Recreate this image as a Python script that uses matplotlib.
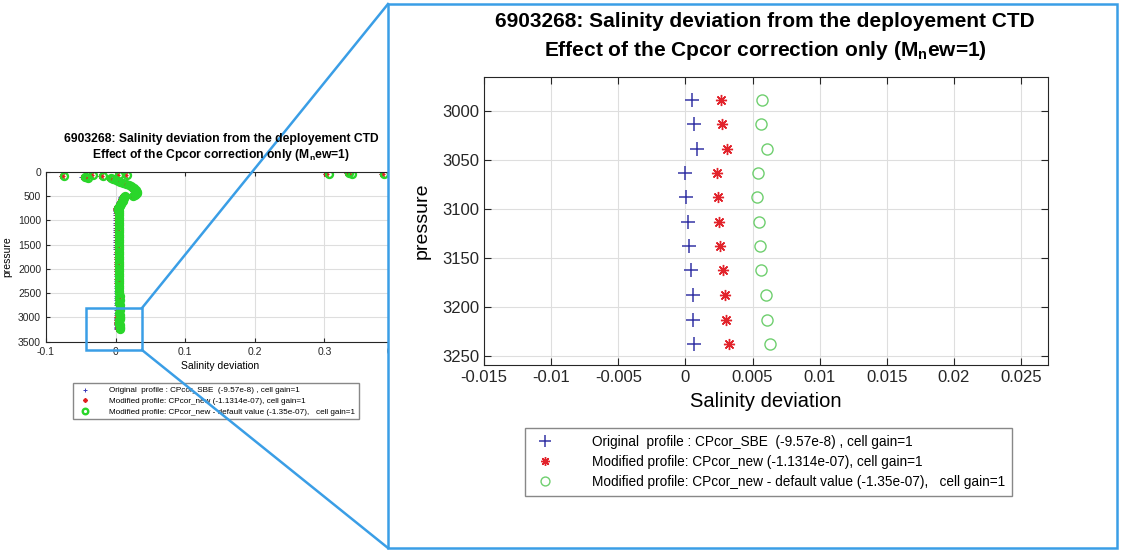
import matplotlib.pyplot as plt
from matplotlib.patches import Rectangle
from matplotlib.lines import Line2D

plt.rcParams['font.family'] = ['Liberation Sans', 'DejaVu Sans']
plt.rcParams['mathtext.fontset'] = 'custom'
plt.rcParams['mathtext.rm'] = 'Liberation Sans'
plt.rcParams['mathtext.bf'] = 'Liberation Sans:bold'

# pressure levels of the profile (dbar)
pres = [30, 40, 50, 55, 65, 70, 75, 82, 90, 100, 110, 120, 130, 150, 170, 190, 210, 230,
        250, 270, 290, 310, 330, 350, 370, 390, 410, 430, 450, 470, 490, 500, 520, 540,
        560, 580, 600, 620, 640, 660, 680, 700, 720, 740, 760, 780,
        800, 850, 900, 950, 1000, 1050, 1100, 1150, 1200, 1250, 1300, 1350, 1400, 1450,
        1500, 1550, 1600, 1650, 1700, 1750, 1800, 1850, 1900, 1950, 2000, 2050, 2100,
        2150, 2200, 2250, 2300, 2350, 2400, 2450, 2500, 2550, 2600, 2650, 2700, 2750,
        2800, 2850, 2900, 2950,
        2988, 3013, 3038, 3063, 3088, 3113, 3138, 3162, 3188, 3213, 3238]

# salinity deviation, original CPcor_SBE
sal_orig = [0.331, 0.334, 0.301, 0.381, 0.000, 0.012, -0.037, -0.079, -0.023, -0.047, -0.049,
            -0.044, -0.012, -0.009, -0.005, -0.001, 0.002, 0.006, 0.010, 0.014, 0.017, 0.019,
            0.021, 0.022, 0.024, 0.025, 0.026, 0.026, 0.025, 0.023, 0.020, 0.008, 0.007,
            0.007, 0.006, 0.006, 0.005, 0.004, 0.003, 0.003, 0.002, 0.001, 0.000, -0.001,
            -0.0015, -0.0012,
            -0.0008, -0.0010, -0.0009, -0.0010, -0.0008, -0.0007, -0.0008, -0.0006, -0.0007,
            -0.0005, -0.0006, -0.0004, -0.0005, -0.0003, -0.0004, -0.0002, -0.0003, -0.0001,
            -0.0002, 0.0000, -0.0001, 0.0001, 0.0000, 0.0002, 0.0001, 0.0002, 0.0001, 0.0003,
            0.0002, 0.0003, 0.0002, 0.0004, 0.0003, 0.0004, 0.0003, 0.0005, 0.0004, 0.0005,
            0.0004, 0.0006, 0.0005, 0.0006, 0.0004, 0.0005,
            0.0005, 0.00066, 0.00085, 0.0, 0.00006, 0.00019, 0.00025, 0.00038, 0.00053,
            0.00053, 0.00066]

# salinity deviation, CPcor_new (-1.1314e-07)
sal_mod = [0.333, 0.336, 0.303, 0.383, 0.002, 0.014, -0.035, -0.077, -0.021, -0.045, -0.047,
           -0.042, -0.010, -0.007, -0.003, 0.001, 0.004, 0.008, 0.012, 0.016, 0.019, 0.021,
           0.023, 0.024, 0.026, 0.027, 0.028, 0.028, 0.027, 0.025, 0.022, 0.010, 0.009,
           0.009, 0.008, 0.008, 0.007, 0.006, 0.005, 0.005, 0.004, 0.003, 0.002, 0.001,
           0.0008, 0.0012,
           0.0017, 0.0015, 0.0016, 0.0015, 0.0017, 0.0018, 0.0017, 0.0019, 0.0018, 0.0020,
           0.0019, 0.0021, 0.0020, 0.0022, 0.0021, 0.0023, 0.0022, 0.0024, 0.0023, 0.0025,
           0.0024, 0.0026, 0.0025, 0.0027, 0.0026, 0.0027, 0.0026, 0.0028, 0.0027, 0.0028,
           0.0027, 0.0029, 0.0028, 0.0029, 0.0028, 0.0030, 0.0029, 0.0030, 0.0029, 0.0031,
           0.0030, 0.0031, 0.0029, 0.0030,
           0.00267, 0.00273, 0.00307, 0.00232, 0.00242, 0.00251, 0.0026, 0.00279, 0.00295,
           0.00301, 0.00323]

# salinity deviation, CPcor_new default value (-1.35e-07)
sal_def = [0.336, 0.339, 0.306, 0.386, 0.005, 0.017, -0.032, -0.074, -0.018, -0.042, -0.044,
           -0.039, -0.007, -0.004, 0.000, 0.004, 0.007, 0.011, 0.015, 0.019, 0.022, 0.024,
           0.026, 0.027, 0.029, 0.030, 0.031, 0.031, 0.030, 0.028, 0.025, 0.013, 0.012,
           0.012, 0.011, 0.011, 0.010, 0.009, 0.008, 0.008, 0.007, 0.006, 0.005, 0.004,
           0.0035, 0.0038,
           0.0044, 0.0042, 0.0043, 0.0042, 0.0044, 0.0045, 0.0044, 0.0046, 0.0045, 0.0047,
           0.0046, 0.0048, 0.0047, 0.0049, 0.0048, 0.0050, 0.0049, 0.0051, 0.0050, 0.0052,
           0.0051, 0.0053, 0.0052, 0.0054, 0.0053, 0.0054, 0.0053, 0.0055, 0.0054, 0.0055,
           0.0054, 0.0056, 0.0055, 0.0056, 0.0055, 0.0057, 0.0056, 0.0057, 0.0056, 0.0058,
           0.0057, 0.0058, 0.0056, 0.0057,
           0.00568, 0.00565, 0.00605, 0.0054, 0.00536, 0.00549, 0.00558, 0.00565, 0.00599,
           0.00609, 0.00631]

labels = ['Original  profile : CPcor_SBE  (-9.57e-8) , cell gain=1',
          'Modified profile: CPcor_new (-1.1314e-07), cell gain=1',
          'Modified profile: CPcor_new - default value (-1.35e-07),   cell gain=1']
title = ('6903268: Salinity deviation from the deployement CTD\n'
         r'Effect of the Cpcor correction only (M$_\mathbf{n}$ew=1)')

xticks_full = [-0.1, 0, 0.1, 0.2, 0.3, 0.4]
xticklabels_full = ['-0.1', '0', '0.1', '0.2', '0.3', '0.4']
yticks_full = [0, 500, 1000, 1500, 2000, 2500, 3000, 3500]
xticks_zoom = [-0.015, -0.01, -0.005, 0, 0.005, 0.01, 0.015, 0.02, 0.025]
xticklabels_zoom = ['-0.015', '-0.01', '-0.005', '0', '0.005', '0.01', '0.015', '0.02', '0.025']
yticks_zoom = [3000, 3050, 3100, 3150, 3200, 3250]

W, H = 1123, 550
fig = plt.figure(figsize=(W / 100, H / 100), dpi=100)


def fx(x):
    return x / W


def fy(y):
    return 1 - y / H


def style_axes(ax, fs):
    ax.grid(True, color='#dedede', linewidth=0.8)
    ax.set_axisbelow(True)
    ax.tick_params(direction='in', top=True, right=True, labelsize=fs, colors='#262626',
                   length=3)
    for s in ax.spines.values():
        s.set_color('#262626')
        s.set_linewidth(0.8)


# ---- full profile (left) ----
ax1 = fig.add_axes([fx(46), fy(341.7), fx(394 - 46), (341.7 - 171.7) / H])
ax1.set_zorder(0)
ax1.plot(sal_orig, pres, '+', color='#3a3ab8', ms=3.5, mew=0.7, ls='none', label=labels[0])
ax1.plot(sal_mod, pres, marker=(8, 2, 0), color='#e02020', ms=4, mew=0.8, ls='none',
         label=labels[1])
ax1.plot(sal_def, pres, 'o', color='#2ad62a', mfc='none', ms=5, mew=1.7, ls='none',
         label=labels[2])
ax1.set_xlim(-0.1, 0.4)
ax1.set_ylim(3500, 0)
ax1.set_xticks(xticks_full)
ax1.set_xticklabels(xticklabels_full)
ax1.set_yticks(yticks_full)
style_axes(ax1, 7.5)
ax1.set_xlabel('Salinity deviation', fontsize=7.5, labelpad=3)
ax1.set_ylabel('pressure', fontsize=7.5, labelpad=4)
fig.text(fx(221), fy(133), title, ha='center', va='top', fontsize=8.7, fontweight='bold',
         linespacing=1.2)
ax1.legend(loc='upper left', bbox_to_anchor=(fx(73), fy(383)), bbox_transform=fig.transFigure,
           borderaxespad=0, fontsize=5.9, fancybox=False, edgecolor='#888888', framealpha=1,
           handletextpad=2.0, labelspacing=0.35, borderpad=0.45, markerscale=0.8)

# ---- zoom panel (right) ----
panel = Rectangle((fx(388), fy(548)), fx(1117 - 388), (548 - 4) / H, transform=fig.transFigure,
                  facecolor='white', edgecolor='#3a9ee6', linewidth=1.8, zorder=0.5)
fig.add_artist(panel)
zoom_box = Rectangle((fx(86), fy(350)), fx(142 - 86), (350 - 308) / H, transform=fig.transFigure,
                     facecolor='none', edgecolor='#3a9ee6', linewidth=1.8, zorder=2)
fig.add_artist(zoom_box)
fig.add_artist(Line2D([fx(142), fx(388)], [fy(308), fy(4)], transform=fig.transFigure,
                      color='#3a9ee6', linewidth=1.8, zorder=2))
fig.add_artist(Line2D([fx(142), fx(388)], [fy(350), fy(548)], transform=fig.transFigure,
                      color='#3a9ee6', linewidth=1.8, zorder=2))

ax2 = fig.add_axes([fx(484), fy(365), fx(1048 - 484), (365 - 77) / H])
ax2.set_zorder(1)
ax2.plot(sal_orig, pres, '+', color='#3535a5', ms=10, mew=1.1, ls='none', label=labels[0])
ax2.plot(sal_mod, pres, marker=(8, 2, 0), color='#e2232b', ms=8, mew=1.0, ls='none',
         label=labels[1])
ax2.plot(sal_def, pres, 'o', color='#6fcf6f', mfc='none', ms=8, mew=1.0, ls='none',
         label=labels[2])
ax2.set_xlim(-0.015, 0.027)
ax2.set_ylim(3259, 2965)
ax2.set_xticks(xticks_zoom)
ax2.set_xticklabels(xticklabels_zoom)
ax2.set_yticks(yticks_zoom)
style_axes(ax2, 12)
ax2.tick_params(length=5)
ax2.set_xlabel('Salinity deviation', fontsize=14.5, labelpad=5)
ax2.set_ylabel('pressure', fontsize=14, labelpad=8)
fig.text(fx(765), fy(12), title, ha='center', va='top', fontsize=15, fontweight='bold',
         linespacing=1.45)
ax2.legend(loc='upper left', bbox_to_anchor=(fx(525), fy(428)), bbox_transform=fig.transFigure,
           borderaxespad=0, fontsize=9.8, fancybox=False, edgecolor='#888888', framealpha=1,
           handletextpad=2.4, labelspacing=0.45, borderpad=0.5, markerscale=0.8)

fig.savefig('out.png', dpi=100)
